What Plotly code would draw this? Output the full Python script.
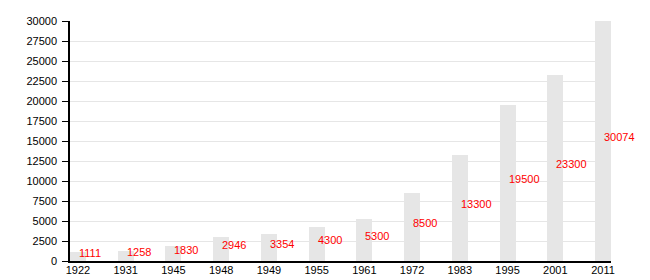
import plotly.graph_objects as go

years = ["1922", "1931", "1945", "1948", "1949", "1955", "1961", "1972", "1983", "1995", "2001", "2011"]
population = [1111, 1258, 1830, 2946, 3354, 4300, 5300, 8500, 13300, 19500, 23300, 30074]
y_ticks = [0, 2500, 5000, 7500, 10000, 12500, 15000, 17500, 20000, 22500, 25000, 27500, 30000]

bar_width = 0.335

fig = go.Figure()
fig.add_trace(go.Bar(
    x=years, y=population, width=bar_width,
    marker=dict(color="#e6e6e6", line=dict(width=0)),
    hoverinfo="skip",
))

for i, v in enumerate(population):
    fig.add_annotation(
        x=i, y=v / 2, text=str(v), showarrow=False,
        xref="x", yref="y",
        xanchor="left", yanchor="bottom", yshift=-3,
        font=dict(color="red", size=11, family="Liberation Sans, Arial, sans-serif"),
        borderpad=0,
    )

fig.update_layout(
    width=650, height=280,
    margin=dict(l=70, r=39, t=21, b=19, autoexpand=False),
    paper_bgcolor="white", plot_bgcolor="white",
    showlegend=False,
    font=dict(family="Liberation Sans, Arial, sans-serif", size=11, color="black"),
    bargap=0,
)
fig.update_xaxes(
    type="category", range=[-bar_width / 2, len(years) - 1 + bar_width / 2],
    showline=True, linecolor="black", linewidth=1.5,
    ticks="", showgrid=False, tickfont=dict(size=11), automargin=False,
    ticklabelstandoff=-2,
)
fig.update_yaxes(
    range=[0, 30000], tickvals=y_ticks, ticktext=[str(t) for t in y_ticks],
    showline=True, linecolor="black", linewidth=1.5,
    ticks="outside", ticklen=6, tickcolor="black",
    showgrid=True, gridcolor="#e6e6e6", gridwidth=1,
    zeroline=False, tickfont=dict(size=11), automargin=False,
    ticklabelstandoff=3,
)

fig.write_html("out.html")
